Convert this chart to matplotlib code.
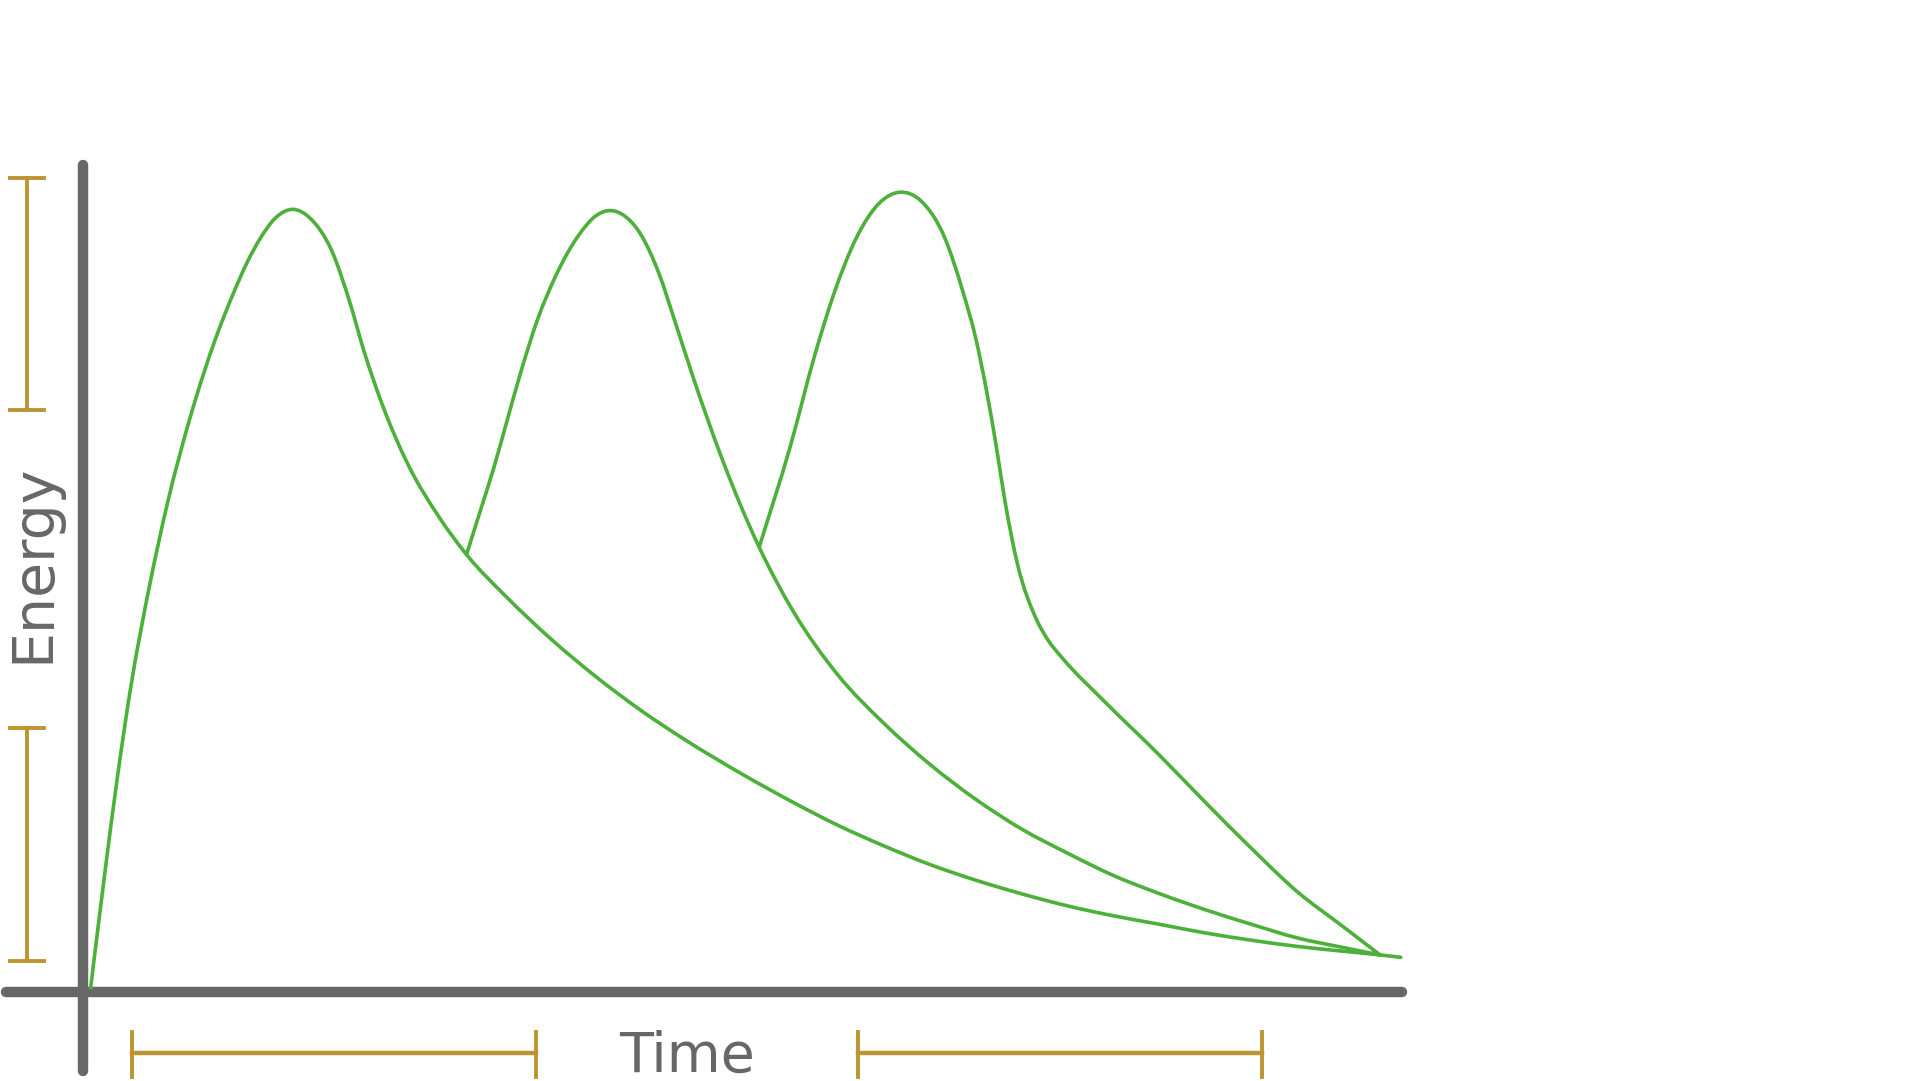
import matplotlib
matplotlib.use("Agg")
import matplotlib.pyplot as plt
import numpy as np
from matplotlib.path import Path
from matplotlib.patches import PathPatch

# Energy pulses over time (arbitrary units)
pulse1_t = [0.06, 0.18, 0.28, 0.39, 0.54, 0.69, 0.87, 1.09, 1.22, 1.34, 1.45, 1.57, 1.71,
            1.85, 2.03, 2.18, 2.29, 2.44, 2.65, 2.91, 3.13, 3.46, 3.82, 4.19, 4.55, 4.91,
            5.41, 5.79, 6.16, 6.54, 6.91, 7.29, 7.66, 8.04, 8.41, 8.79, 9.16, 9.54, 9.91,
            10.29, 10.59, 10.76]
pulse1_e = [0.03, 1.00, 1.76, 2.50, 3.31, 4.00, 4.68, 5.36, 5.69, 5.96, 6.16, 6.32, 6.39,
            6.32, 6.05, 5.62, 5.24, 4.80, 4.31, 3.87, 3.57, 3.22, 2.88, 2.57, 2.30, 2.06,
            1.76, 1.55, 1.36, 1.19, 1.04, 0.91, 0.80, 0.70, 0.62, 0.55, 0.48, 0.42, 0.37,
            0.33, 0.30, 0.28]

pulse2_t = [3.13, 3.24, 3.35, 3.46, 3.57, 3.71, 3.86, 4.04, 4.19, 4.30, 4.40, 4.55, 4.70,
            4.84, 4.99, 5.21, 5.52, 5.79, 6.16, 6.54, 6.91, 7.29, 7.66, 8.04, 8.41, 8.79,
            9.16, 9.54, 9.91, 10.29, 10.59]
pulse2_e = [3.57, 3.92, 4.27, 4.66, 5.05, 5.49, 5.85, 6.17, 6.34, 6.38, 6.35, 6.19, 5.87,
            5.45, 4.99, 4.37, 3.63, 3.12, 2.59, 2.19, 1.86, 1.57, 1.33, 1.13, 0.95, 0.80,
            0.67, 0.55, 0.44, 0.36, 0.30]

pulse3_t = [5.52, 5.77, 5.98, 6.13, 6.31, 6.50, 6.67, 6.84, 7.03, 7.18, 7.29, 7.38, 7.46,
            7.53, 7.63, 7.78, 7.88, 8.00, 8.34, 8.79, 9.16, 9.54, 9.91, 10.29, 10.59]
pulse3_e = [3.63, 4.44, 5.22, 5.70, 6.15, 6.44, 6.53, 6.46, 6.17, 5.73, 5.33, 4.89, 4.43,
            3.99, 3.49, 3.05, 2.87, 2.72, 2.37, 1.93, 1.55, 1.17, 0.82, 0.53, 0.30]

# range brackets: (start, end)
energy_brackets = [(4.75, 6.65), (0.25, 2.15)]
time_brackets = [(0.40, 3.70), (6.33, 9.63)]

GREEN = "#4cb03a"
GRAY = "#676767"
GOLD = "#bd9530"


def smooth_path(xs, ys):
    # cubic hermite through the points (x is increasing), drawn as bezier segments
    x = np.asarray(xs, float)
    y = np.asarray(ys, float)
    h = np.diff(x)
    d = np.diff(y) / h
    m = np.empty_like(y)
    m[0], m[-1] = d[0], d[-1]
    m[1:-1] = (d[:-1] * h[1:] + d[1:] * h[:-1]) / (h[:-1] + h[1:])
    verts = [(x[0], y[0])]
    codes = [Path.MOVETO]
    for i in range(len(h)):
        verts += [(x[i] + h[i] / 3, y[i] + m[i] * h[i] / 3),
                  (x[i + 1] - h[i] / 3, y[i + 1] - m[i + 1] * h[i] / 3),
                  (x[i + 1], y[i + 1])]
        codes += [Path.CURVE4] * 3
    return Path(verts, codes)


fig = plt.figure(figsize=(19.2, 10.81), dpi=100)
ax = fig.add_axes([0, 0, 1, 1])
ax.set_xlim(-0.68, 15.0)
ax.set_ylim(-0.73, 8.10)
ax.axis("off")

# axes lines
ax.plot([0, 0], [-0.65, 6.75], color=GRAY, lw=7.5, solid_capstyle="round", zorder=2)
ax.plot([-0.63, 10.77], [0, 0], color=GRAY, lw=7.5, solid_capstyle="round", zorder=2)

for t, e in [(pulse1_t, pulse1_e), (pulse2_t, pulse2_e), (pulse3_t, pulse3_e)]:
    ax.add_patch(PathPatch(smooth_path(t, e), facecolor="none", edgecolor=GREEN,
                           lw=2.6, joinstyle="round", capstyle="round", zorder=3))

# bracket markers
for lo, hi in energy_brackets:
    ax.plot([-0.46, -0.46], [lo, hi], color=GOLD, lw=2.8)
    for y in (lo, hi):
        ax.plot([-0.60, -0.32], [y, y], color=GOLD, lw=2.8)
for lo, hi in time_brackets:
    ax.plot([lo, hi], [-0.50, -0.50], color=GOLD, lw=3.2)
    for x in (lo, hi):
        ax.plot([x, x], [-0.33, -0.70], color=GOLD, lw=2.8)

ax.text(-0.40, 3.5, "Energy", rotation=90, ha="center", va="center",
        fontsize=41, color=GRAY, family="DejaVu Sans")
ax.text(4.93, -0.53, "Time", ha="center", va="center",
        fontsize=40, color=GRAY, family="DejaVu Sans")

fig.savefig("out.png", dpi=100)
